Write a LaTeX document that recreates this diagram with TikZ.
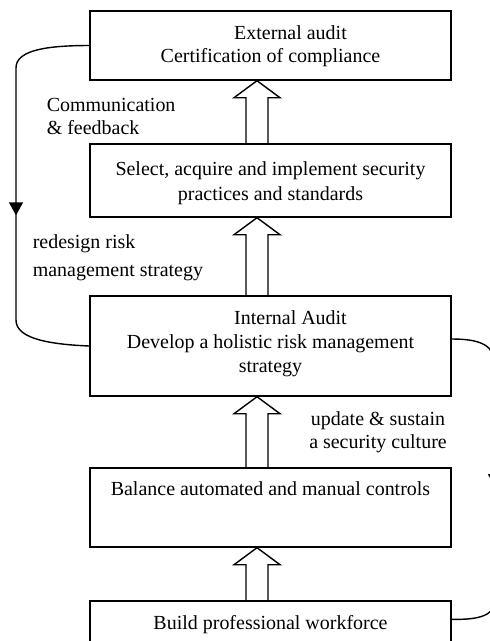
\documentclass[tikz,border=0pt]{standalone}
\usepackage{fontspec}
\setmainfont{Liberation Serif}
\usetikzlibrary{arrows.meta, positioning, calc, decorations.markings}
\tikzset{
    stage/.style={rectangle, draw, line width=1pt, minimum width=9.025cm, inner sep=0pt},
    stagetext/.style={inner sep=0pt, align=center, font=\fontsize{14.2}{16.9}\selectfont},
    sidenote/.style={inner sep=0pt, align=left, font=\fontsize{14.2}{16.4}\selectfont},
    hollow/.style={line width=1pt, line join=miter},
    feedback/.style={line width=1pt, postaction={decorate}},
    midarrow/.style={decoration={markings, mark=at position #1 with {\arrow{Triangle[width=0.35cm, length=0.325cm]}}}},
}

\begin{document}
\begin{tikzpicture}[x=0.025cm, y=-0.025cm]
    \clip (0,0) rectangle (490,641);

    % stages, from the audit at the top down to the workforce
    \node[stage, minimum height=1.725cm] (ext) at (270.5,45.5) {};
    \node[stage, minimum height=1.825cm] (sel) at (270.5,180.5) {};
    \node[stage, minimum height=2.5cm] (int) at (270.5,346) {};
    \node[stage, minimum height=1.975cm] (bal) at (270.5,507.5) {};
    \node[stage, minimum height=1.975cm] (bld) at (270.5,640.5) {};

    \node[stagetext, below=0.365cm of ext.north] (extT) {\hspace*{1cm}External audit\\Certification of compliance};
    \node[stagetext, font=\fontsize{14.2}{17.8}\selectfont, below=0.46cm of sel.north] (selT) {Select, acquire and implement security\\practices and standards};
    \node[stagetext, below=0.38cm of int.north] (intT) {\hspace*{1cm}Internal Audit\\Develop a holistic risk management\\strategy};
    \node[stagetext, below=0.36cm of bal.north] (balT) {Balance automated and manual controls};
    \node[stagetext, below=0.375cm of bld.north] (bldT) {Build professional workforce};

    % labels beside the loops
    \node[sidenote, anchor=north west] (comm) at (46.5,98.3) {Communication\\\& feedback};
    \node[sidenote, anchor=north west, font=\fontsize{14.2}{19.5}\selectfont] (redesign) at (32.5,234.6) {redesign risk\\management strategy};
    \node[sidenote, align=center, anchor=north] (update) at (378,411.3) {update \& sustain\\a security culture};

    % hollow up arrows between the stages
    \coordinate (axis) at (257,0);
    \foreach \lo/\hi in {sel/ext, int/sel, bal/int, bld/bal}
        \draw[hollow] ($(axis |- \lo.north)+(-11,0)$) -- ($(axis |- \hi.south)+(-11,17)$) -- ++(-12,0)
            -- (axis |- \hi.south) -- ($(axis |- \hi.south)+(23,17)$) -- ++(-12,0)
            -- ($(axis |- \lo.north)+(11,0)$);

    % feedback loops
    \draw[feedback, midarrow=0.55] (ext.west) .. controls (40,45.5) and (16,52) .. (16,68)
        -- (16,320) .. controls (16,336) and (40,344) .. (int.west);
    \draw[feedback, midarrow=0.52] ([yshift=0.175cm]int.east) .. controls (480,339) and (495,345) .. (495,365)
        -- (495,600) .. controls (495,615) and (480,620) .. ([yshift=-0.475cm]bld.north east);
\end{tikzpicture}
\end{document}
